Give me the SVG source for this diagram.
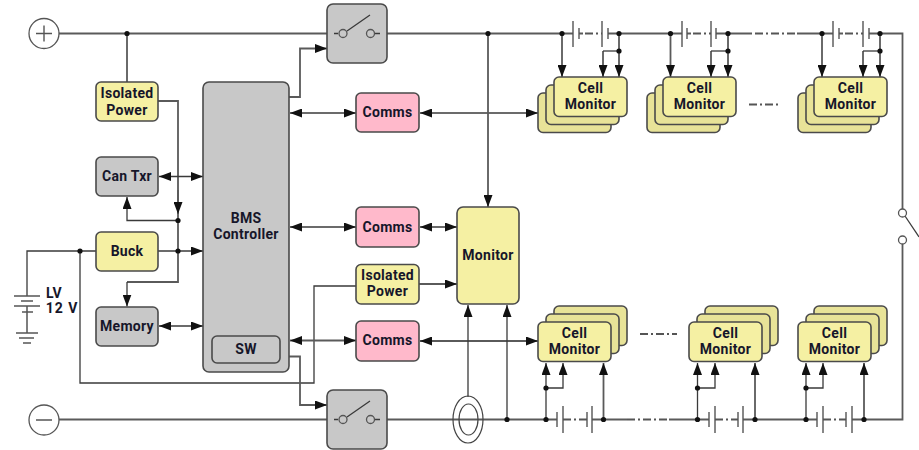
<svg xmlns="http://www.w3.org/2000/svg" width="919" height="450" viewBox="0 0 919 450">
<style>
.b{stroke:#4a4a4a;stroke-width:1.6}
.y{fill:#f5f0a3}.y2{fill:#e8e398}.g{fill:#c8c8c8}.p{fill:#ffb9cb}
text{font-family:Roboto,"Liberation Sans",sans-serif;font-size:14px;font-weight:700;fill:#16162a;text-anchor:middle;letter-spacing:.3px}
.w{fill:none;stroke:#5a5a5a;stroke-width:1.8}
.k{fill:none;stroke:#3a3a3a;stroke-width:1.3}
.t{fill:none;stroke:#555;stroke-width:1.4}
.d{fill:none;stroke:#555;stroke-width:1.8;stroke-dasharray:8 3 2 3}
.a{marker-end:url(#ah)}
.aa{marker-end:url(#ah);marker-start:url(#ah)}
.o{fill:#fff;stroke:#555;stroke-width:1.3}
.r{fill:none;stroke:#444;stroke-width:1.2}
.s{fill:#c8c8c8;stroke:#555;stroke-width:1.3}
</style>
<defs>
<marker id="ah" markerUnits="userSpaceOnUse" markerWidth="13" markerHeight="9" refX="12" refY="4.500" orient="auto-start-reverse"><path d="M0 0L12 4.500L0 9Z" fill="#111"/></marker>
<g id="cm"><rect width="73" height="39.500" rx="5" class="y b"/><text x="36.500" y="16">Cell</text><text x="36.500" y="32">Monitor</text></g>
<rect id="cb" width="73" height="39.500" rx="5" class="y2 b"/>
<circle id="dt" r="2.600" fill="#111"/>
</defs>
<g id="connectors">
<path class="w" d="M59 33.500H327M387 33.500H573M579 33.500H583M608 33.500H682M687 33.500H691M716 33.500H752M797 33.500H833M839 33.500H843M869 33.500H902.500V209"/>
<path class="d" d="M585 33.500H602M693 33.500H711M755 33.500H797M845 33.500H863"/>
<path class="w" d="M902.500 244V419.500H852M817 419.500H743M709 419.500H669M557 419.500H387M327 419.500H59M627 419.500H592"/>
<path class="d" d="M563 419.500H587M715 419.500H738M823 419.500H846M627 419.500H669"/>
<path class="k" d="M905 216L919 237"/>
<path class="w" d="M127 33.500V82"/>
<path class="w" d="M158 101H178V251M178 251V282H127"/>
<path class="w a" d="M178 190V214"/>
<path class="k a" d="M127 282V306.500"/>
<path class="k a" d="M178 220.500H127V197"/>
<path class="k aa" d="M159 176.500H203"/>
<path class="k a" d="M158 251H203"/>
<path class="k" d="M96 251H27V296M27 306V333M80 251V383H314V286H356"/>
<path class="t" d="M14 296H40M21 301H33M14 306H40M22 312H33M16 333H38M19 338H34M23 343H31"/>
<path class="k aa" d="M159 326H203"/>
<path class="w a" d="M289 97H300V48.500H327"/>
<path class="k aa" d="M290 113H356"/>
<path class="k aa" d="M420 113H538"/>
<path class="w a" d="M488 33.500V207"/>
<path class="k aa" d="M290 227H356"/>
<path class="k aa" d="M420 227H457"/>
<path class="w aa" d="M290 340.500H356"/>
<path class="w aa" d="M420 341H538"/>
<path class="w a" d="M419 284H457"/>
<path class="w a" d="M280 356.500H300V405H327"/>
<path class="k a" d="M468 397V305"/>
<path class="k a" d="M507 419.500V305"/>
<path class="w a" d="M562 33.500V77"/><path class="w a" d="M603 51V77"/><path class="w a" d="M619 33.500V77"/><path class="k" d="M603 51H619"/>
<path class="w a" d="M670.500 33.500V77"/><path class="w a" d="M711 51V77"/><path class="w a" d="M728 33.500V77"/><path class="k" d="M711 51H728"/>
<path class="w a" d="M822 33.500V77"/><path class="w a" d="M863 51V77"/><path class="w a" d="M880 33.500V77"/><path class="k" d="M863 51H880"/>
<path class="k a" d="M546 419.500V363"/><path class="k a" d="M546 388H563V363"/><path class="w a" d="M603.500 419.500V363"/>
<path class="k a" d="M697.500 419.500V363"/><path class="k a" d="M697.500 388H715V363"/><path class="w a" d="M755 419.500V363"/>
<path class="k a" d="M806 419.500V363"/><path class="k a" d="M806 388H823V363"/><path class="w a" d="M864 419.500V363"/>
<path class="d" d="M640 334H677M749 104.500H781"/>
<path class="t" d="M573 21V47M579 28V39M602 21V47M608 28V39M682 21V47M687 28V39M711 21V47M716 28V39M833 21V47M839 28V39M863 21V47M869 28V39M557 412V427M563 406V433M587 412V427M592 406V433M709 412V427M715 406V433M738 412V427M743 406V433M817 412V427M823 406V433M846 412V427M852 406V433"/>
<use href="#dt" x="127" y="33.500"/><use href="#dt" x="488" y="33.500"/><use href="#dt" x="562" y="33.500"/><use href="#dt" x="619" y="33.500"/><use href="#dt" x="670.500" y="33.500"/><use href="#dt" x="728" y="33.500"/><use href="#dt" x="822" y="33.500"/><use href="#dt" x="880" y="33.500"/><use href="#dt" x="619" y="51"/><use href="#dt" x="728" y="51"/><use href="#dt" x="880" y="51"/>
<use href="#dt" x="178" y="220.500"/><use href="#dt" x="178" y="251"/><use href="#dt" x="80" y="251"/>
<use href="#dt" x="507" y="419.500"/><use href="#dt" x="546" y="419.500"/><use href="#dt" x="603.500" y="419.500"/><use href="#dt" x="697.500" y="419.500"/><use href="#dt" x="755" y="419.500"/><use href="#dt" x="806" y="419.500"/><use href="#dt" x="864" y="419.500"/><use href="#dt" x="546" y="388"/><use href="#dt" x="697.500" y="388"/><use href="#dt" x="806" y="388"/>
</g>
<g id="plus"><circle cx="44" cy="33.500" r="15" class="o"/><path class="t" d="M36 33.500H52M44 25.500V41.500"/></g>
<g id="minus"><circle cx="44" cy="420" r="15" class="o"/><path class="k" d="M36 420H52"/></g>
<g id="lv"><text x="54" y="298">LV</text><text x="62" y="313" style="letter-spacing:1px">12 V</text></g>
<g id="isolated1"><rect x="96" y="82" width="62" height="39" rx="5" class="y b"/><text x="127" y="98">Isolated</text><text x="127" y="115">Power</text></g>
<g id="can"><rect x="96" y="157" width="62" height="39" rx="5" class="g b"/><text x="127" y="181">Can Txr</text></g>
<g id="buck"><rect x="96" y="232" width="62" height="39" rx="5" class="y b"/><text x="127" y="256">Buck</text></g>
<g id="memory"><rect x="96" y="307" width="62" height="39" rx="5" class="g b"/><text x="127" y="331">Memory</text></g>
<g id="bms"><rect x="203" y="82" width="86" height="290" rx="6" class="g b"/><text x="246" y="223">BMS</text><text x="246" y="239">Controller</text><rect x="212" y="336" width="68" height="27" rx="5" class="g b"/><text x="246" y="354">SW</text></g>
<g id="sw1"><rect x="327" y="4" width="60" height="59" rx="6" class="g b"/><path class="k" d="M334 33.500H338M347 31L370 15M375 33.500H380"/><circle cx="343" cy="33.500" r="4" class="s"/><circle cx="370.500" cy="33.500" r="4" class="s"/></g>
<g id="sw2"><rect x="327" y="390" width="60" height="59" rx="6" class="g b"/><path class="k" d="M334 419.500H338M347 417L370 401M375 419.500H380"/><circle cx="343" cy="419.500" r="4" class="s"/><circle cx="370.500" cy="419.500" r="4" class="s"/></g>
<g id="comms1"><rect x="356" y="93" width="63" height="39" rx="5" class="p b"/><text x="387.500" y="117">Comms</text></g>
<g id="comms2"><rect x="356" y="207" width="63" height="40" rx="5" class="p b"/><text x="387.500" y="232">Comms</text></g>
<g id="isolated2"><rect x="356" y="264.500" width="63" height="39.500" rx="5" class="y b"/><text x="387.500" y="280">Isolated</text><text x="387.500" y="296">Power</text></g>
<g id="comms3"><rect x="356" y="321" width="63" height="40" rx="5" class="p b"/><text x="387.500" y="345">Comms</text></g>
<g id="monitor"><rect x="457" y="207" width="62" height="97" rx="6" class="y b"/><text x="488" y="260">Monitor</text></g>
<g id="ring"><ellipse cx="468" cy="419.500" rx="15" ry="23.500" class="r"/><ellipse cx="468.500" cy="419.500" rx="9.500" ry="15.500" class="r"/></g>
<g id="cmt1"><use href="#cb" x="538" y="93"/><use href="#cb" x="546" y="85"/><use href="#cm" x="554" y="77"/></g>
<g id="cmt2"><use href="#cb" x="647" y="93"/><use href="#cb" x="655" y="85"/><use href="#cm" x="663" y="77"/></g>
<g id="cmt3"><use href="#cb" x="798" y="93"/><use href="#cb" x="806" y="85"/><use href="#cm" x="814" y="77"/></g>
<g id="cmb1"><use href="#cb" x="554" y="306"/><use href="#cb" x="546" y="314"/><use href="#cm" x="538" y="322"/></g>
<g id="cmb2"><use href="#cb" x="705" y="306"/><use href="#cb" x="697" y="314"/><use href="#cm" x="689" y="322"/></g>
<g id="cmb3"><use href="#cb" x="814" y="306"/><use href="#cb" x="806" y="314"/><use href="#cm" x="798" y="322"/></g>
<g id="contact"><circle cx="902.500" cy="213" r="4" class="o"/><circle cx="902.500" cy="240" r="4" class="o"/></g>
</svg>
